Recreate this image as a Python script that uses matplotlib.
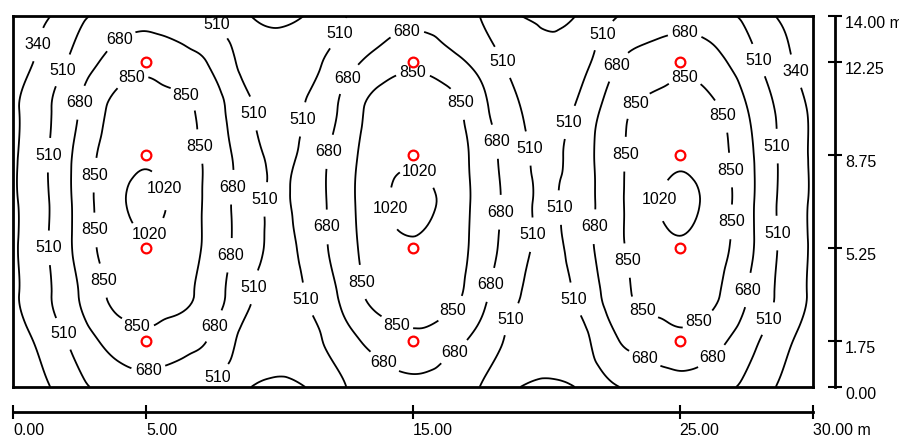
import matplotlib
matplotlib.use('Agg')
import matplotlib.pyplot as plt
import matplotlib.tri as mtri
import numpy as np

plt.rcParams['font.family'] = ['Liberation Sans', 'DejaVu Sans']

grid_x = np.linspace(0, 30, 25)
grid_y = np.linspace(0, 14, 9)
lux = [
    [220, 323, 480, 555, 610, 555, 495, 355, 318, 360, 510, 580, 640, 580, 510, 360, 318, 355, 495, 555, 610, 555, 480, 323, 220],
    [255, 404, 584, 740, 805, 750, 650, 450, 395, 465, 628, 745, 810, 745, 628, 465, 395, 450, 650, 750, 805, 740, 584, 404, 255],
    [310, 480, 688, 880, 920, 885, 760, 545, 455, 545, 740, 915, 940, 915, 740, 545, 455, 545, 760, 885, 920, 880, 688, 480, 310],
    [318, 495, 737, 930, 1000, 935, 790, 590, 480, 590, 787, 950, 1000, 950, 787, 590, 480, 590, 790, 935, 1000, 930, 737, 495, 318],
    [320, 490, 744, 965, 1050, 970, 785, 595, 490, 605, 799, 975, 1070, 975, 799, 605, 490, 595, 785, 970, 1050, 965, 744, 490, 320],
    [318, 495, 737, 930, 1000, 935, 790, 590, 480, 590, 787, 950, 1000, 950, 787, 590, 480, 590, 790, 935, 1000, 930, 737, 495, 318],
    [310, 480, 688, 880, 920, 885, 760, 545, 455, 545, 740, 915, 940, 915, 740, 545, 455, 545, 760, 885, 920, 880, 688, 480, 310],
    [255, 404, 584, 740, 805, 750, 650, 450, 395, 465, 628, 745, 810, 745, 628, 465, 395, 450, 650, 750, 805, 740, 584, 404, 255],
    [220, 323, 480, 555, 610, 555, 495, 355, 318, 360, 510, 580, 640, 580, 510, 360, 318, 355, 495, 555, 610, 555, 480, 323, 220],
]
levels = [340, 510, 680, 850, 1020]

# luminaire positions (m)
lum_x = [5, 5, 5, 5, 15, 15, 15, 15, 25, 25, 25, 25]
lum_y = [1.75, 5.25, 8.75, 12.25] * 3

# scale ticks
xticks = [0, 5, 15, 25, 30]
xtick_labels = ['0.00', '5.00', '15.00', '25.00', '30.00 m']
yticks = [0, 1.75, 5.25, 8.75, 12.25, 14]
ytick_labels = ['0.00', '1.75', '5.25', '8.75', '12.25', '14.00 m']

# where the contour labels sit on the plan (m)
label_pos = [
    (1.01, 12.91), (1.84, 11.96), (3.94, 13.21), (7.54, 13.58), (2.44, 10.75),
    (1.31, 8.75), (4.46, 11.62), (6.49, 10.98), (7.09, 9.09), (3.0, 8.0),
    (5.66, 7.47), (8.14, 7.55), (9.15, 10.34), (9.64, 7.06), (3.0, 5.92),
    (5.02, 6.04), (1.31, 5.25), (3.30, 4.0), (8.06, 4.98), (9.19, 3.74),
    (4.69, 2.38), (7.39, 2.38), (1.87, 2.0), (5.10, 0.53), (7.57, 0.45),
    (12.19, 13.36), (14.74, 13.58), (18.37, 12.26), (12.52, 11.66), (15.0, 11.77),
    (16.69, 10.68), (10.76, 10.11), (20.70, 10.04), (11.89, 8.87), (18.04, 9.25),
    (19.46, 9.02), (15.34, 8.26), (14.17, 6.72), (18.15, 6.6), (20.32, 6.75),
    (11.81, 6.04), (19.57, 5.74), (21.90, 6.04), (13.12, 3.96), (17.92, 3.85),
    (10.91, 3.28), (20.96, 3.28), (16.46, 2.91), (14.40, 2.38), (18.75, 2.53),
    (13.84, 0.83), (16.65, 1.21),
    (22.12, 13.28), (25.20, 13.47), (22.76, 12.04), (25.20, 11.66), (27.97, 12.34),
    (29.36, 11.92), (23.32, 10.72), (26.62, 10.23), (28.65, 9.09), (22.87, 8.79),
    (26.96, 8.19), (24.26, 7.06), (26.96, 6.23), (28.68, 5.81), (22.91, 4.75),
    (27.56, 3.66), (23.58, 2.87), (25.68, 2.53), (28.27, 2.60), (23.62, 0.94),
    (26.25, 1.09),
]

fig = plt.figure(figsize=(8.99, 4.37), dpi=100)
rect = [13 / 899, 1 - 387 / 437, 800 / 899, 371 / 437]
ax = fig.add_axes(rect)

gx, gy = np.meshgrid(grid_x, grid_y)
tri = mtri.Triangulation(gx.ravel(), gy.ravel())
refiner = mtri.UniformTriRefiner(tri)
tri_f, z_f = refiner.refine_field(np.array(lux, dtype=float).ravel(), subdiv=4)

cs = ax.tricontour(tri_f, z_f, levels=levels, colors='black', linewidths=1.3)
texts = ax.clabel(cs, levels, inline=True, inline_spacing=4, fmt='%d', fontsize=11.5,
                  manual=label_pos)
for t in texts:
    t.set_rotation(0)

ax.plot(lum_x, lum_y, 'o', mfc='white', mec='red', ms=7, mew=1.6, zorder=5)

ax.set_xlim(0, 30)
ax.set_ylim(0, 14)
ax.set_xticks([])
ax.set_yticks([])
for s in ax.spines.values():
    s.set_linewidth(2)

# scale bars below and to the right
sc = fig.add_axes(rect, label='scale', facecolor='none')
sc.set_xlim(0, 30)
sc.set_ylim(0, 14)
sc.spines['top'].set_visible(False)
sc.spines['left'].set_visible(False)
sc.spines['bottom'].set_position(('outward', 17.8))
sc.spines['right'].set_position(('outward', 15.8))
sc.spines['bottom'].set_linewidth(2)
sc.spines['right'].set_linewidth(2)
sc.yaxis.tick_right()
sc.set_xticks(xticks, xtick_labels)
sc.set_yticks(yticks, ytick_labels)
sc.tick_params(direction='inout', length=9.5, width=1.5, labelsize=11.5, colors='black')
sc.tick_params(axis='x', pad=3.5)
sc.tick_params(axis='y', pad=2.5)
for lbl in sc.get_xticklabels():
    lbl.set_ha('left')
for lbl in sc.get_yticklabels():
    lbl.set_va('top')

fig.savefig('out.png', dpi=100)
